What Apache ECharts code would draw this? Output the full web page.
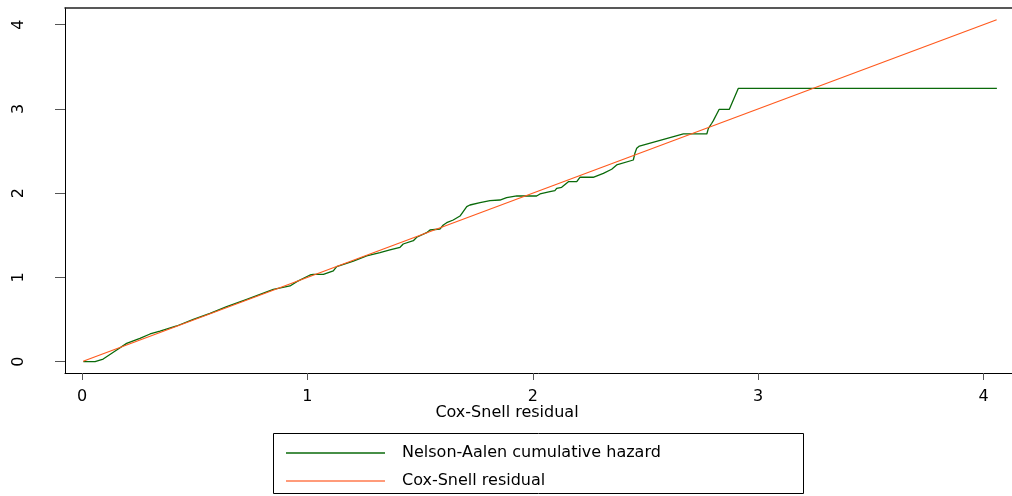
<!DOCTYPE html>
<html>
<head>
<meta charset="utf-8">
<script src="https://cdn.jsdelivr.net/npm/echarts@6/dist/echarts.min.js"></script>
<style>html,body{margin:0;padding:0;background:#fff;}#c{width:1012px;height:496px;}</style>
</head>
<body>
<div id="c"></div>
<script>
// Nelson-Aalen cumulative hazard (x = Cox-Snell residual, y = cumulative hazard)
const naX = [0.006,0.058,0.094,0.154,0.198,0.257,0.302,0.346,0.420,0.494,0.568,0.642,0.731,0.790,0.849,0.923,0.953,1.012,
  1.026,1.071,1.115,1.130,1.204,1.263,1.322,1.366,1.411,1.425,1.470,1.485,1.529,1.544,1.588,1.603,1.618,1.647,1.677,1.707,1.721,1.766,1.810,1.854,1.884,1.929,2.002,
  2.017,2.032,2.076,2.098,2.106,2.128,2.135,2.158,2.195,2.209,2.268,2.313,2.350,2.372,2.446,2.453,2.461,2.473,2.668,2.772,2.779,2.794,2.801,2.827,2.872,2.912,4.059];
const naY = [0,0,0.032,0.139,0.218,0.278,0.329,0.364,0.424,0.503,0.574,0.653,0.741,0.800,0.859,0.899,0.950,1.029,
  1.037,1.037,1.077,1.128,1.195,1.255,1.294,1.326,1.358,1.397,1.436,1.477,1.531,1.563,1.575,1.623,1.650,1.682,1.729,1.840,1.860,1.887,1.911,1.919,1.947,1.967,1.967,
  1.967,1.991,2.018,2.030,2.058,2.070,2.085,2.137,2.137,2.189,2.189,2.236,2.284,2.335,2.394,2.474,2.533,2.560,2.703,2.703,2.770,2.830,2.861,2.996,2.996,3.245,3.245];
// Cox-Snell residual reference line
const csX = [0.005, 4.058];
const csY = [0.005, 4.058];
const xTicks = [0, 1, 2, 3, 4];
const yTicks = [0, 1, 2, 3, 4];
const seriesNames = ['Nelson-Aalen cumulative hazard', 'Cox-Snell residual'];
const xTitle = 'Cox-Snell residual';

const FONT = '"DejaVu Sans", sans-serif';
const chart = echarts.init(document.getElementById('c'), null, {renderer: 'canvas'});
chart.setOption({
  animation: false,
  backgroundColor: '#ffffff',
  grid: {left: 65, top: 8, right: 0, bottom: 123, containLabel: false},
  xAxis: [{
    type: 'value', min: -0.0754, max: 4.126,
    splitLine: {show: false},
    axisLine: {show: true, onZero: false, lineStyle: {color: '#000', width: 1}},
    axisTick: {show: true, customValues: xTicks, length: 7, lineStyle: {color: '#555'}},
    axisLabel: {customValues: xTicks, margin: 16, fontSize: 16, color: '#000', fontFamily: FONT}
  }, {
    type: 'value', position: 'top', min: -0.0754, max: 4.126,
    splitLine: {show: false},
    axisLine: {show: true, onZero: false, lineStyle: {color: '#222', width: 1.5}},
    axisTick: {show: false}, axisLabel: {show: false}
  }],
  yAxis: {
    type: 'value', min: -0.134, max: 4.198,
    splitLine: {show: false},
    axisLine: {show: true, onZero: false, lineStyle: {color: '#000', width: 1}},
    axisTick: {show: true, customValues: yTicks, length: 10, lineStyle: {color: '#555'}},
    axisLabel: {customValues: yTicks, rotate: 90, margin: 38, fontSize: 16, color: '#000', fontFamily: FONT}
  },
  legend: {
    orient: 'vertical', left: 281, top: 445, padding: [0, 0, 0, 5],
    icon: 'rect', itemWidth: 99, itemHeight: 1.5, itemGap: 12,
    textStyle: {fontSize: 16, color: '#000', fontFamily: FONT, padding: [0, 0, 0, 12]},
    data: seriesNames
  },
  graphic: [
    {type: 'rect', shape: {x: 273.5, y: 433.5, width: 530, height: 60}, style: {fill: 'none', stroke: '#000', lineWidth: 1}, silent: true},
    {type: 'text', x: 507, y: 413, style: {text: xTitle, fontSize: 16, fontFamily: FONT, fill: '#000', align: 'center', verticalAlign: 'middle'}}
  ],
  series: [{
    name: seriesNames[0], type: 'line', symbol: 'none', showSymbol: false,
    lineStyle: {color: '#0a6a0a', width: 1.3}, itemStyle: {color: '#0a6a0a'},
    data: naX.map((x, i) => [x, naY[i]]), z: 2
  }, {
    name: seriesNames[1], type: 'line', symbol: 'none', showSymbol: false,
    lineStyle: {color: '#ff5a1e', width: 1.2}, itemStyle: {color: '#ff7a4e'},
    data: csX.map((x, i) => [x, csY[i]]), z: 3
  }]
});
</script>
</body>
</html>
